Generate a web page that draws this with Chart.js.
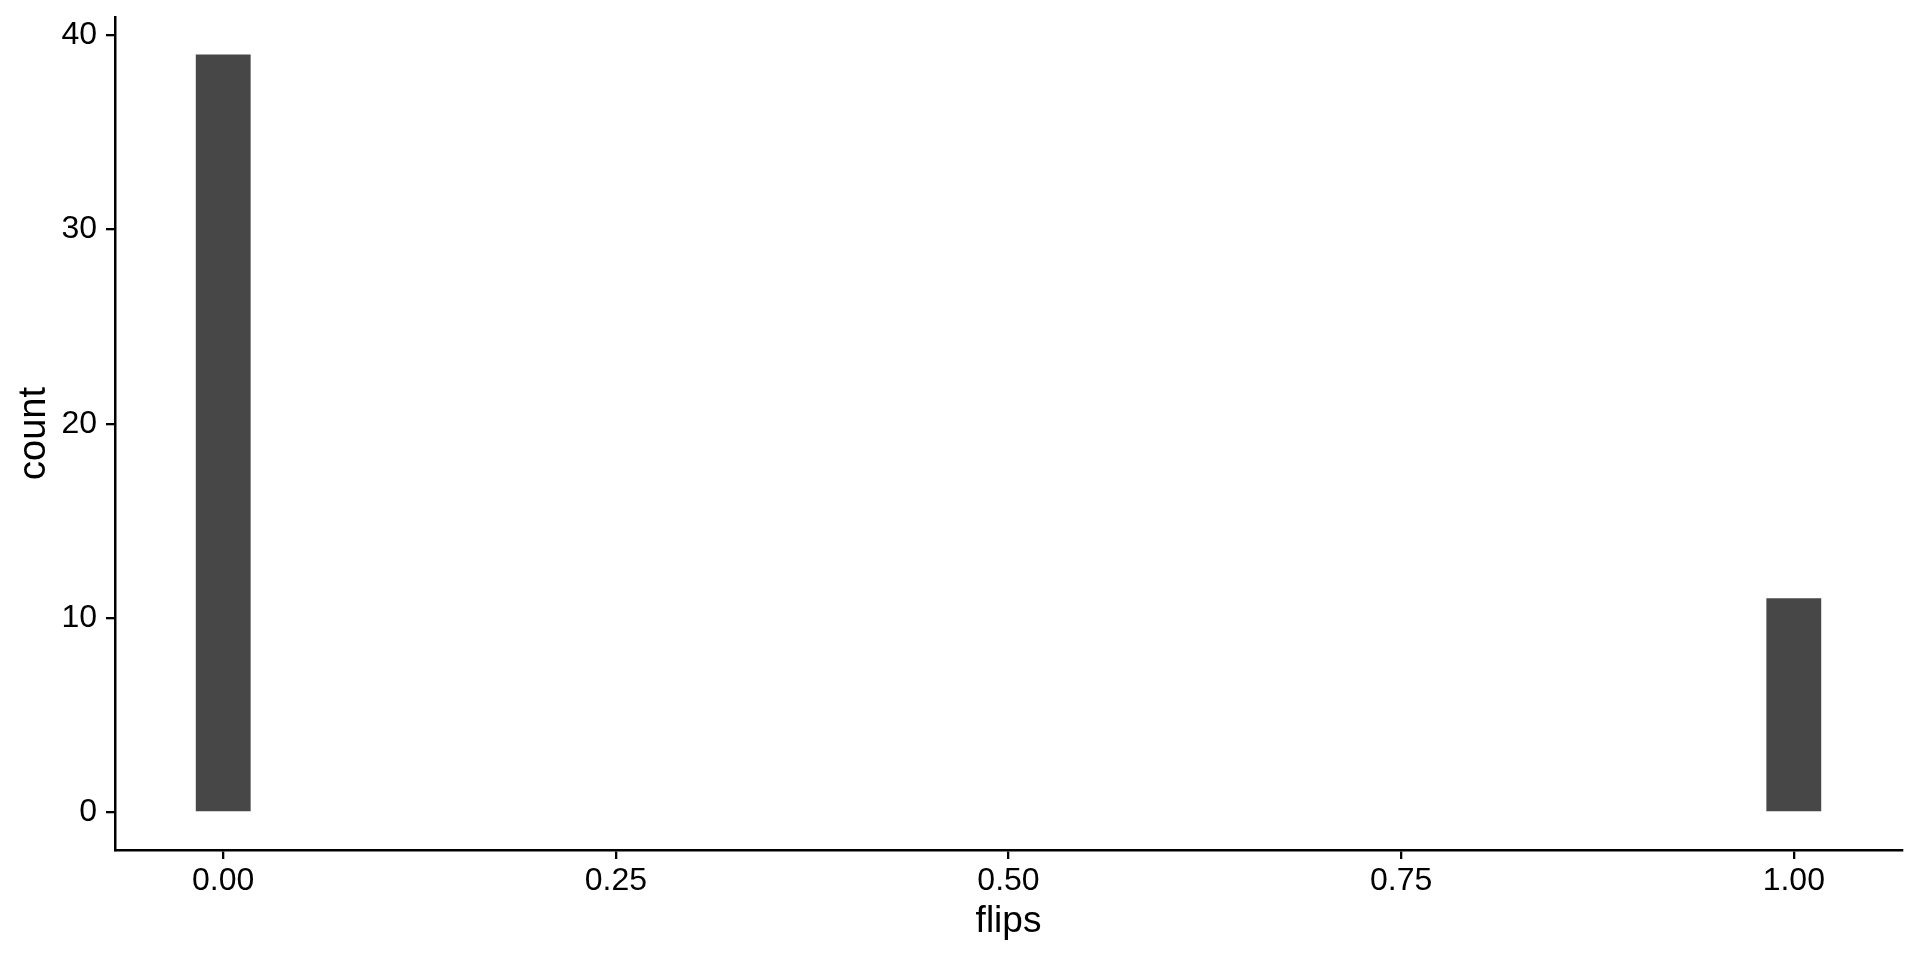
<!DOCTYPE html>
<html>
<head>
<meta charset="utf-8">
<script src="https://cdn.jsdelivr.net/npm/chart.js@4/dist/chart.umd.min.js"></script>
<style>
  html, body { margin: 0; padding: 0; background: #fff; }
  canvas { display: block; }
</style>
</head>
<body>
<canvas id="hist" width="1920" height="960"></canvas>
<script>
  // histogram of flips (bins with zero count left out)
  const binCenters = [0, 1];
  const counts = [39, 11];
  const binWidth = 0.0345;
  const xTicks = [0, 0.25, 0.5, 0.75, 1];
  const yTicks = [0, 10, 20, 30, 40];

  const ink = '#000000';
  const barFill = '#474747';

  const ctx = document.getElementById('hist').getContext('2d');
  new Chart(ctx, {
    type: 'bar',
    data: {
      datasets: [{
        label: 'count',
        data: binCenters.map((x, i) => ({ x: x, y: counts[i] })),
        backgroundColor: barFill,
        borderWidth: 0,
        barThickness: function(c) {
          const s = c.chart.scales.x;
          return s.getPixelForValue(binWidth) - s.getPixelForValue(0);
        }
      }]
    },
    options: {
      responsive: false,
      devicePixelRatio: 1,
      animation: false,
      layout: { padding: { left: 0, right: 18, top: 17, bottom: 0 } },
      plugins: {
        legend: { display: false },
        tooltip: { enabled: false }
      },
      scales: {
        x: {
          type: 'linear',
          offset: false,
          min: -0.0689,
          max: 1.0689,
          afterBuildTicks: axis => { axis.ticks = xTicks.map(v => ({ value: v })); },
          afterFit: axis => { axis.height = 110; axis.paddingLeft = 0; axis.paddingRight = 0; },
          ticks: {
            color: ink,
            padding: 3,
            maxRotation: 0,
            font: { family: 'Liberation Sans', size: 32 },
            callback: v => Number(v).toFixed(2)
          },
          grid: { offset: false, drawOnChartArea: false, drawTicks: true, tickLength: 9, tickColor: ink, lineWidth: 2.3 },
          border: { display: true, color: ink, width: 2.5 },
          title: {
            display: true,
            text: 'flips',
            color: ink,
            font: { family: 'Liberation Sans', size: 37 },
            padding: { top: 0, bottom: 16 }
          }
        },
        y: {
          min: -1.95,
          max: 40.95,
          afterBuildTicks: axis => { axis.ticks = yTicks.map(v => ({ value: v })); },
          afterFit: axis => { axis.width = 115; axis.paddingTop = 0; axis.paddingBottom = 0; },
          ticks: {
            color: ink,
            padding: 9,
            font: { family: 'Liberation Sans', size: 32 }
          },
          grid: { drawOnChartArea: false, drawTicks: true, tickLength: 9, tickColor: ink, lineWidth: 2.3 },
          border: { display: true, color: ink, width: 2.5 },
          title: {
            display: true,
            text: 'count',
            color: ink,
            font: { family: 'Liberation Sans', size: 38 },
            padding: { top: 12, bottom: 0 }
          }
        }
      }
    }
  });
</script>
</body>
</html>
